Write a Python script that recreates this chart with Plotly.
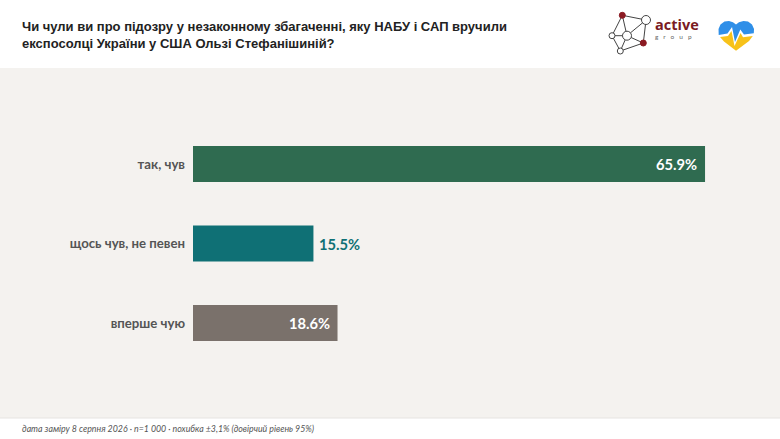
import plotly.graph_objects as go

# ─────────────────────────────────────────────
# Data
# ─────────────────────────────────────────────

categories = ["так, чув", "щось чув, не певен", "вперше чую"]
values = [65.9, 15.5, 18.6]
bar_colors = ["#2f6b50", "#0f7075", "#7a716b"]
value_labels = ["65.9%", "15.5%", "18.6%"]

title_text = ("Чи чули ви про підозру у незаконному збагаченні, яку НАБУ і САП вручили<br>"
              "експосолці України у США Ользі Стефанішиній?")
footer_text = "дата заміру 8 серпня 2026 · n=1 000 · похибка ±3,1% (довірчий рівень 95%)"

W, H = 780, 439


def px(x):
    return x / W


def py(y):
    return 1 - y / H


def path(points):
    return "M " + " L ".join(f"{px(x):.4f},{py(y):.4f}" for x, y in points) + " Z"


# ─────────────────────────────────────────────
# Bars
# ─────────────────────────────────────────────

fig = go.Figure(go.Bar(
    x=values,
    y=categories,
    orientation="h",
    marker=dict(color=bar_colors, line_width=0),
    width=0.453,
    hoverinfo="skip",
))

annotations = []
for cat, val, label in zip(categories, values, value_labels):
    inside = val > 16
    annotations.append(dict(
        x=val, y=cat, xref="x", yref="y",
        text=f"<b>{label}</b>",
        showarrow=False,
        xanchor="right" if inside else "left",
        xshift=-6 if inside else 4,
        font=dict(family="Lato, Carlito, sans-serif", size=14.7,
                  color="#ffffff" if inside else "#0f7075"),
    ))

# title and footer
annotations.append(dict(
    x=px(20), y=py(35), xref="paper", yref="paper", xanchor="left", yanchor="middle",
    text=f"<b>{title_text}</b>", align="left", showarrow=False,
    font=dict(family="Liberation Sans", size=13, color="#222222"),
))
annotations.append(dict(
    x=px(20), y=py(428), xref="paper", yref="paper", xanchor="left", yanchor="middle",
    text=f"<i>{footer_text}</i>", showarrow=False,
    font=dict(family="Lato, Carlito, sans-serif", size=8.8, color="#555555"),
))

# logo text
annotations.append(dict(
    x=px(652.5), y=py(24.5), xref="paper", yref="paper", xanchor="left", yanchor="middle",
    text="<b>active</b>", showarrow=False,
    font=dict(family="Open Sans", size=14.5, color="#7a1a22"),
))
annotations.append(dict(
    x=px(653), y=py(36), xref="paper", yref="paper", xanchor="left", yanchor="middle",
    text="g\u00a0\u00a0\u00a0r\u00a0\u00a0\u00a0o\u00a0\u00a0\u00a0u\u00a0\u00a0\u00a0p", showarrow=False,
    font=dict(family="Lato", size=6.5, color="#666666"),
))

# ─────────────────────────────────────────────
# Header, footer, logo decorations
# ─────────────────────────────────────────────

shapes = [
    dict(type="rect", xref="paper", yref="paper", x0=0, x1=1, y0=py(68), y1=1,
         fillcolor="#ffffff", line_width=0, layer="below"),
    dict(type="rect", xref="paper", yref="paper", x0=0, x1=1, y0=0, y1=py(418),
         fillcolor="#ffffff", line_width=0, layer="below"),
    dict(type="line", xref="paper", yref="paper", x0=0, x1=1, y0=py(418), y1=py(418),
         line=dict(color="#e6e4e1", width=1), layer="below"),
]

nodes = {
    "top": (622.3, 15.3, 3, "#8b1a22"),
    "tr": (646, 20, 4.5, "#ffffff"),
    "left": (612, 35.7, 3, "#ffffff"),
    "mid": (627, 35.7, 4.5, "#ffffff"),
    "low": (643.3, 43, 3, "#8b1a22"),
    "bot": (620.3, 51, 3, "#ffffff"),
}
edges = [("top", "tr"), ("top", "left"), ("top", "mid"), ("left", "mid"), ("left", "bot"),
         ("mid", "tr"), ("mid", "bot"), ("mid", "low"), ("tr", "low"), ("bot", "low")]

for a, b in edges:
    shapes.append(dict(type="line", xref="paper", yref="paper",
                       x0=px(nodes[a][0]), y0=py(nodes[a][1]),
                       x1=px(nodes[b][0]), y1=py(nodes[b][1]),
                       line=dict(color="#444444", width=1)))
for x, y, r, col in nodes.values():
    shapes.append(dict(type="circle", xref="paper", yref="paper",
                       x0=px(x - r), x1=px(x + r), y0=py(y + r), y1=py(y - r),
                       fillcolor=col,
                       line=dict(color="#8b1a22" if col != "#ffffff" else "#444444", width=1)))

# heart: blue top, yellow bottom, white pulse between
heart_top = [(718.7, 35), (718.5, 29), (720.5, 24.5), (724.5, 21.5), (729, 21), (733, 22.3), (736, 24.5),
             (739, 22.3), (743.5, 21), (748, 21.5), (752, 24.5), (754, 29), (753.8, 33.2),
             (744, 34.5), (740.3, 29.5), (735, 42), (732, 27), (727.5, 33.5)]
heart_bot = [(720, 37), (728, 36), (731.5, 31), (734.5, 46), (740.5, 33), (743, 37.2), (752.8, 36),
             (749, 41), (736, 50.7), (724, 41.5)]
shapes.append(dict(type="path", xref="paper", yref="paper", path=path(heart_top),
                   fillcolor="#2f8fe8", line_width=0))
shapes.append(dict(type="path", xref="paper", yref="paper", path=path(heart_bot),
                   fillcolor="#f7c21a", line_width=0))

# ─────────────────────────────────────────────
# Layout
# ─────────────────────────────────────────────

fig.update_layout(
    width=W,
    height=H,
    margin=dict(l=0, r=0, t=0, b=0),
    paper_bgcolor="#f4f2ef",
    plot_bgcolor="rgba(0,0,0,0)",
    showlegend=False,
    annotations=annotations,
    shapes=shapes,
    xaxis=dict(domain=[px(193), 1], range=[0, 587 / 7.77], visible=False, fixedrange=True),
    yaxis=dict(
        domain=[py(362.75), py(124.25)],
        autorange="reversed",
        showgrid=False, zeroline=False, showline=False, ticks="",
        ticklabelstandoff=7,
        tickfont=dict(family="Lato, Carlito, sans-serif", size=13.2, color="#555555", weight="bold"),
        fixedrange=True,
    ),
)

# the page's default body margin would push the chart 8px in
fig.write_html("out.html", config=dict(displayModeBar=False),
               post_script="document.body.style.margin='0';document.documentElement.style.overflow='hidden';")
